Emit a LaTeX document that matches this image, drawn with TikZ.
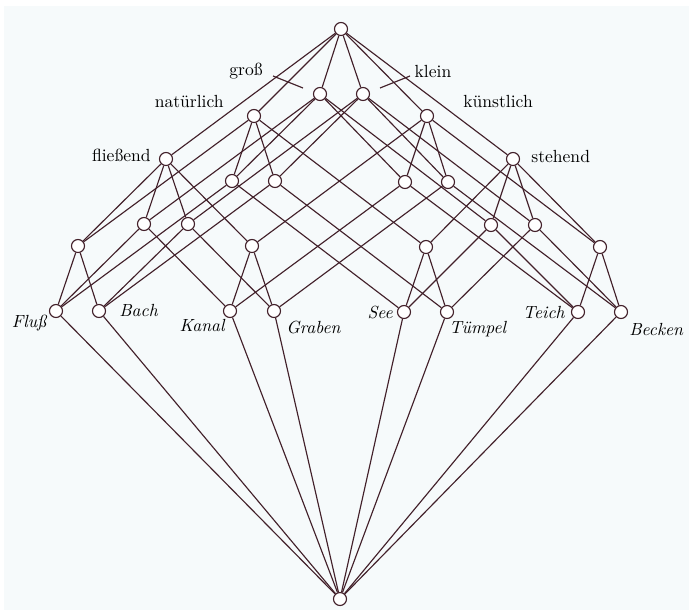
\documentclass[tikz,border=0pt]{standalone}
\usepackage{tikz}
\usetikzlibrary{positioning}
\definecolor{paper}{RGB}{246,250,251}
\definecolor{ink}{RGB}{66,32,42}

\begin{document}
\begin{tikzpicture}[x=0.02cm,y=-0.02cm,
  concept/.style={circle,draw=ink,fill=white,line width=0.65pt,minimum size=0.26cm,inner sep=0pt},
  attr/.style={inner sep=0pt,font=\normalsize},
  obj/.style={inner sep=0pt,font=\itshape},
  link/.style={draw=ink,line width=0.65pt}]

% Page
\useasboundingbox (0,0) rectangle (689,610);
\fill[paper] (4,6) rectangle (689,610);

% --- Top and attribute concepts ---
\node[concept] (top) at (341,29) {};
\node[concept] (gross) at (320,94) {};
\node[concept] (klein) at (363,94) {};
\node[concept] (nat) at (254,116) {};
\node[concept] (kuen) at (427,116) {};
\node[concept] (fliess) at (166,159) {};
\node[concept] (steh) at (513,159) {};

% --- Concepts of two attributes ---
\node[concept] (gn) at (232,181) {};
\node[concept] (kn) at (275,181) {};
\node[concept] (gk) at (405,182) {};
\node[concept] (kk) at (448,182) {};
\node[concept] (gf) at (144,224) {};
\node[concept] (kf) at (188,224) {};
\node[concept] (gs) at (491,225) {};
\node[concept] (ks) at (535,225) {};
\node[concept] (nf) at (78,246) {};
\node[concept] (kuf) at (252,246) {};
\node[concept] (ns) at (426,247) {};
\node[concept] (kus) at (600,247) {};

% --- Object concepts ---
\node[concept] (fluss) at (56,311) {};
\node[concept] (bach) at (99,311) {};
\node[concept] (kanal) at (230,311) {};
\node[concept] (graben) at (274,311) {};
\node[concept] (see) at (404,312) {};
\node[concept] (tuempel) at (447,312) {};
\node[concept] (teich) at (578,312) {};
\node[concept] (becken) at (621,312) {};

% Bottom
\node[concept] (bot) at (340,599) {};

% --- Lines ---
\foreach \b in {gross,klein,nat,kuen,fliess,steh}
  \draw[link] (top) -- (\b);
\foreach \b in {gn,gk,gf,gs} \draw[link] (gross) -- (\b);
\foreach \b in {kn,kk,kf,ks} \draw[link] (klein) -- (\b);
\foreach \b in {gn,kn,nf,ns} \draw[link] (nat) -- (\b);
\foreach \b in {gk,kk,kuf,kus} \draw[link] (kuen) -- (\b);
\foreach \b in {gf,kf,nf,kuf} \draw[link] (fliess) -- (\b);
\foreach \b in {gs,ks,ns,kus} \draw[link] (steh) -- (\b);

\foreach \a/\b in {gn/fluss,gn/see,kn/bach,kn/tuempel,gk/kanal,gk/teich,
  kk/graben,kk/becken,gf/fluss,gf/kanal,kf/bach,kf/graben,gs/see,gs/teich,
  ks/tuempel,ks/becken,nf/fluss,nf/bach,kuf/kanal,kuf/graben,ns/see,
  ns/tuempel,kus/teich,kus/becken}
  \draw[link] (\a) -- (\b);

\foreach \a in {fluss,bach,kanal,graben,see,tuempel,teich,becken}
  \draw[link] (\a) -- (bot);

% --- Attribute labels ---
\node[attr] (lgross) at (246,71) {groß};
\node[attr] (lklein) at (433,71) {klein};
\node[attr,anchor=east] (lnat) at (224,101) {natürlich};
\node[attr,anchor=west] (lkuen) at (463,101) {künstlich};
\node[attr,anchor=east] (lfliess) at (151,155) {fließend};
\node[attr,anchor=west] (lsteh) at (531,156) {stehend};

% leaders for gross and klein
\coordinate (gfoot) at (273,76);
\coordinate (gtip) at (303,88);
\coordinate (kfoot) at (410,76);
\coordinate (ktip) at (380,88);
\draw[link] (gfoot) -- (gtip);
\draw[link] (kfoot) -- (ktip);

% --- Object labels ---
\node[obj,anchor=east] (lfluss) at (47,323) {Fluß};
\node[obj,anchor=west] (lbach) at (119,310) {Bach};
\node[obj,anchor=east] (lkanal) at (225,325) {Kanal};
\node[obj,anchor=west] (lgraben) at (286,327) {Graben};
\node[obj,anchor=east] (lsee) at (393,312) {See};
\node[obj,anchor=west] (ltuempel) at (449,329) {Tümpel};
\node[obj,anchor=east] (lteich) at (565,312) {Teich};
\node[obj,anchor=west] (lbecken) at (629,329) {Becken};

\end{tikzpicture}
\end{document}
